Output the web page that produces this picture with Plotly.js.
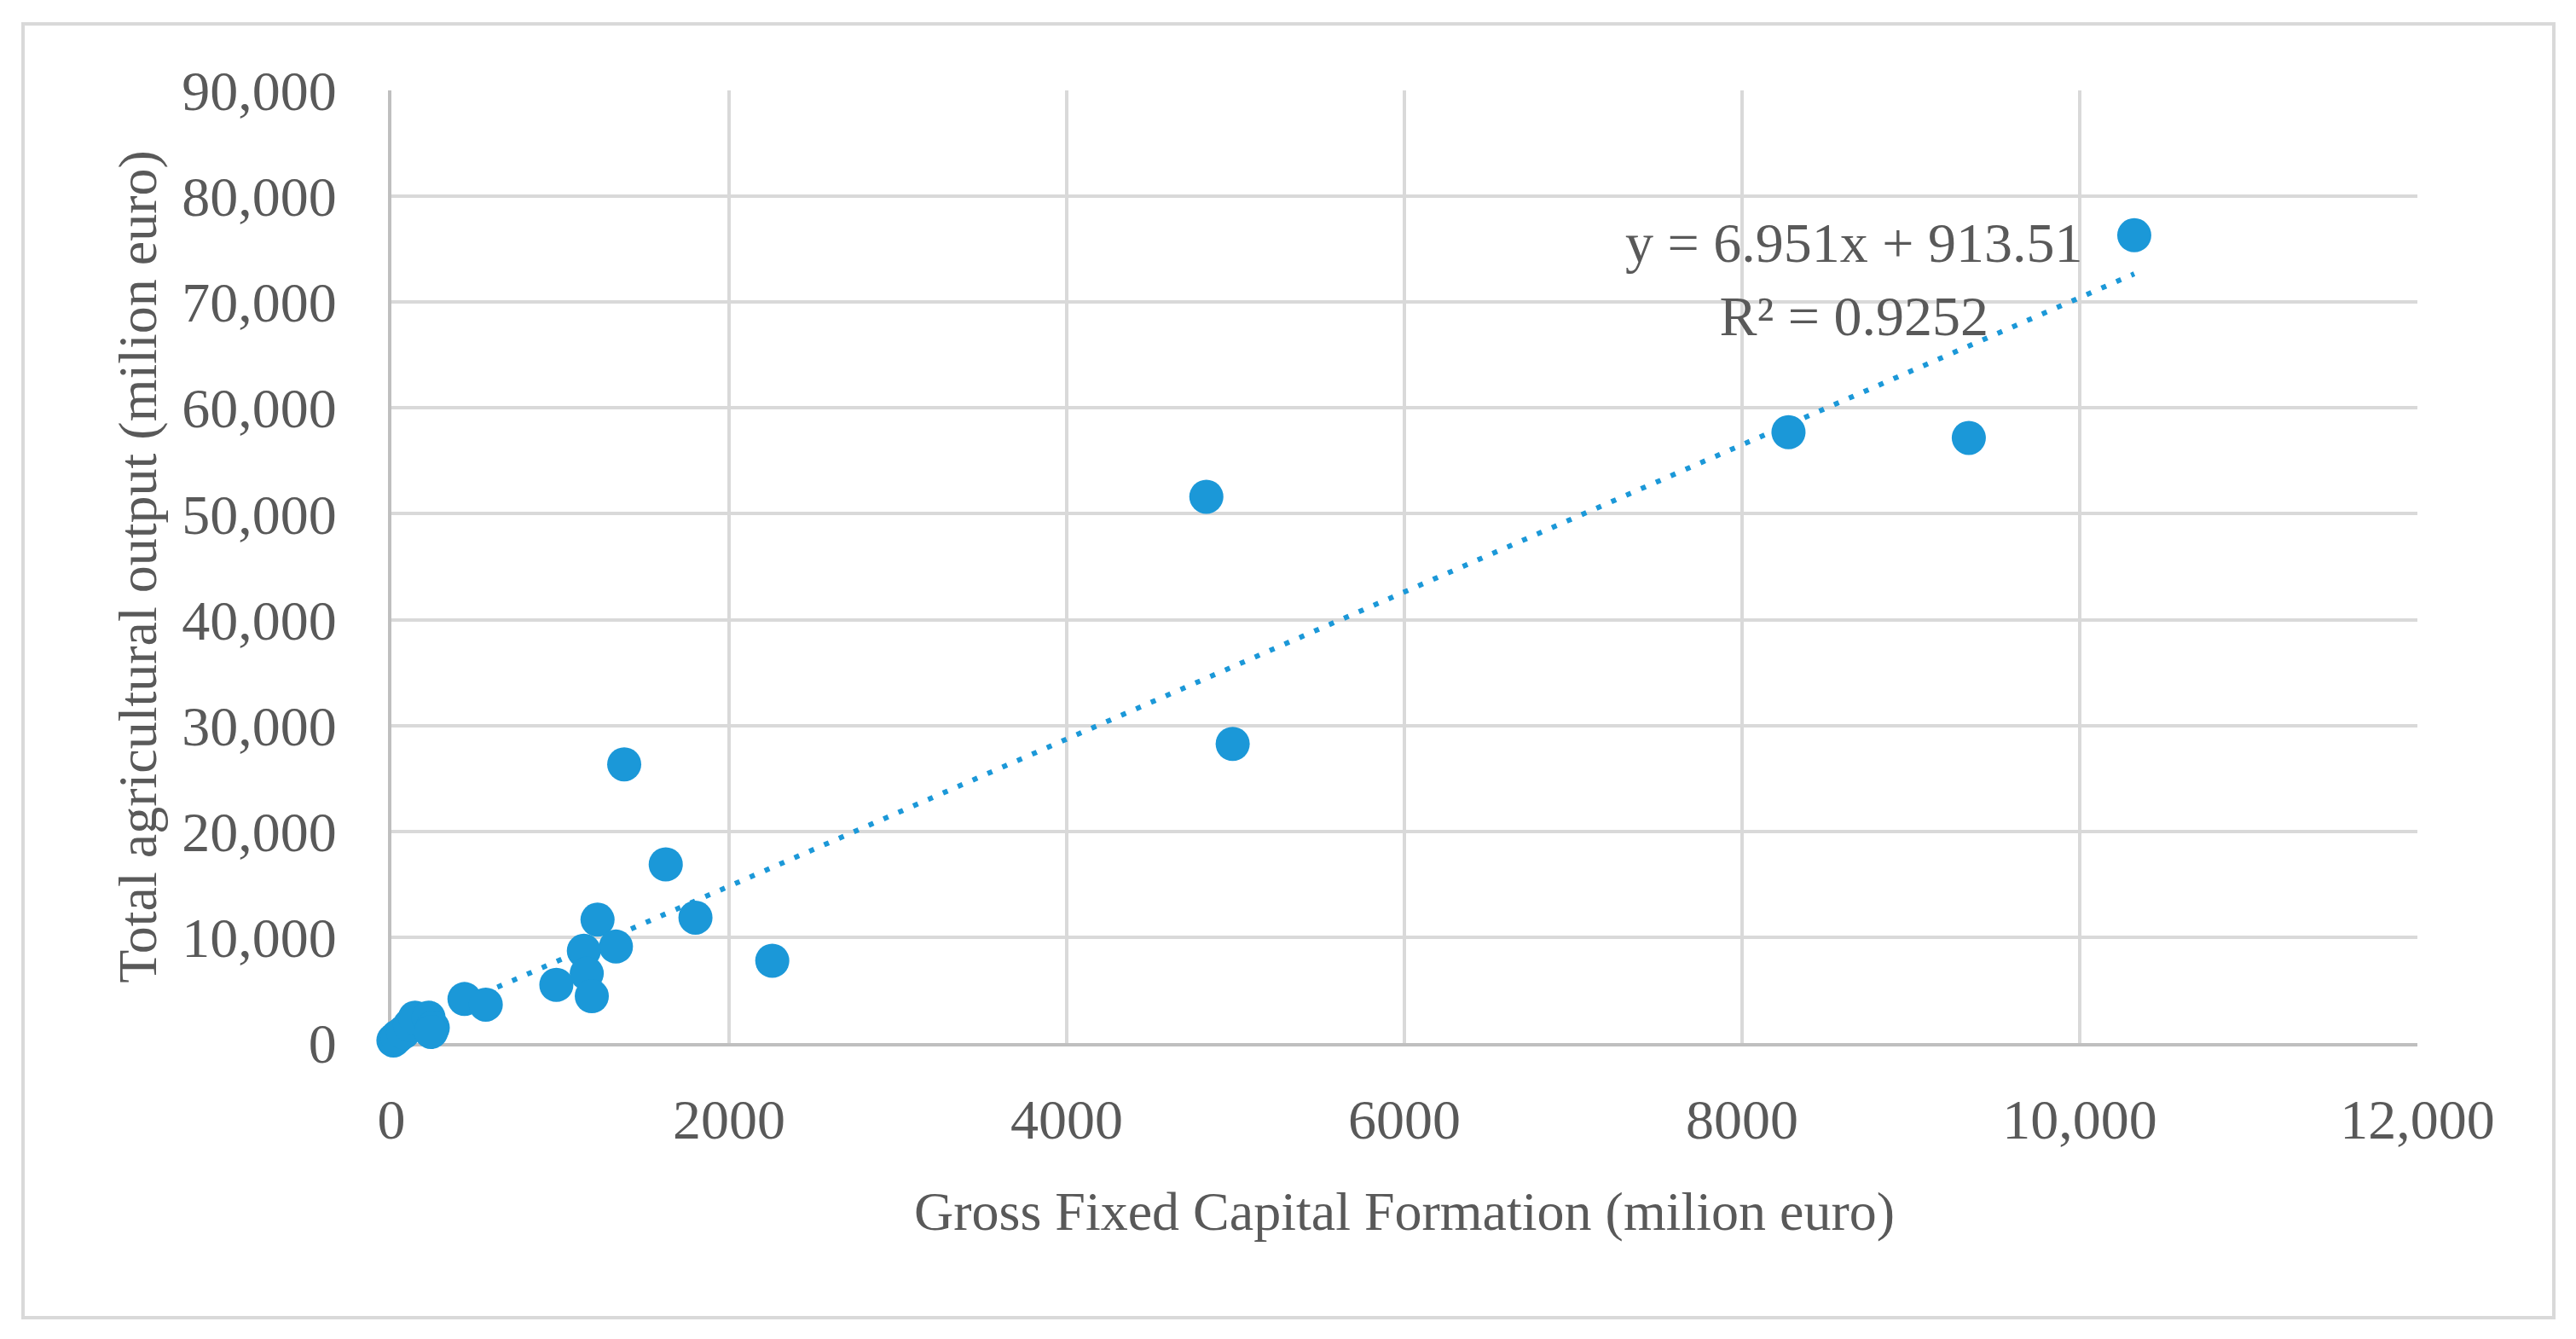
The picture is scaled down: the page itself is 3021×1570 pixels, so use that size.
<!DOCTYPE html>
<html>
<head>
<meta charset="utf-8">
<script src="https://cdn.plot.ly/plotly-3.0.1.min.js"></script>
<style>
  html, body { margin: 0; padding: 0; background: #ffffff; }
  #chart { width: 3021px; height: 1570px; }
</style>
</head>
<body>
<div id="chart"></div>
<script>
// Gross Fixed Capital Formation (milion euro)
const gfcf = [10323, 8275, 9343, 4827, 4983,
              1379, 1625, 1801, 2256, 1221, 1330, 1140, 1157, 1187, 977, 433, 559,
              12, 35, 70, 110, 140, 220, 245, 235];
// Total agricultural output (milion euro)
const output = [76320, 57710, 57170, 51610, 28260,
                26330, 16880, 11850, 7775, 11660, 9115, 8715, 6570, 4430, 5500, 4160, 3630,
                250, 600, 1000, 1700, 2400, 2400, 1450, 1050];

// Linear trendline (as reported on chart)
const slope = 6.951;
const intercept = 913.51;
const rSquared = 0.9252;

const xTickVals = [0, 2000, 4000, 6000, 8000, 10000, 12000];
const xTickText = ['0', '2000', '4000', '6000', '8000', '10,000', '12,000'];
const yTickVals = [0, 10000, 20000, 30000, 40000, 50000, 60000, 70000, 80000, 90000];
const yTickText = ['0', '10,000', '20,000', '30,000', '40,000', '50,000', '60,000', '70,000', '80,000', '90,000'];

const xTitle = 'Gross Fixed Capital Formation (milion euro)';
const yTitle = 'Total agricultural output (milion euro)';

const blue = '#1b98d8';
const textColor = '#595959';
const fontFam = '"Palatino Linotype", "Book Antiqua", Palatino, "Liberation Serif", serif';

const xMin = Math.min(...gfcf), xMax = Math.max(...gfcf);
const trendX = [xMin, xMax];
const trendY = trendX.map(v => slope * v + intercept);

const traces = [
  {
    x: trendX, y: trendY, type: 'scatter', mode: 'lines',
    line: { color: blue, width: 6, dash: '6px,13px' },
    hoverinfo: 'skip', showlegend: false
  },
  {
    x: gfcf, y: output, type: 'scatter', mode: 'markers',
    marker: { color: blue, size: 40, line: { width: 0 } },
    cliponaxis: false,
    hoverinfo: 'x+y', showlegend: false
  }
];

const W = 3021, H = 1570;
const mL = 459, mR = 186, mT = 106, mB = 347;
const pw = W - mL - mR, ph = H - mT - mB;
const px = v => (v - mL) / pw;
const py = v => (H - mB - v) / ph;

const layout = {
  width: W, height: H,
  margin: { l: mL, r: mR, t: mT, b: mB, pad: 0 },
  paper_bgcolor: '#ffffff', plot_bgcolor: '#ffffff',
  font: { family: fontFam, color: textColor, size: 66 },
  xaxis: {
    range: [0, 12000], tickvals: xTickVals, ticktext: xTickText,
    showgrid: true, gridcolor: '#d9d9d9', gridwidth: 4,
    showline: true, linecolor: '#bfbfbf', linewidth: 4,
    zeroline: false, ticks: '', ticklabelstandoff: 29, layer: 'below traces',
    tickfont: { family: fontFam, size: 66, color: textColor },
    title: { text: xTitle, font: { family: fontFam, size: 64, color: textColor }, standoff: 50 },
    automargin: false, fixedrange: true
  },
  yaxis: {
    range: [0, 90000], tickvals: yTickVals, ticktext: yTickText,
    showgrid: true, gridcolor: '#d9d9d9', gridwidth: 4,
    showline: true, linecolor: '#bfbfbf', linewidth: 4,
    zeroline: false, ticks: '', ticklabelstandoff: 47, layer: 'below traces',
    tickfont: { family: fontFam, size: 66, color: textColor },
    title: { text: yTitle, font: { family: fontFam, size: 64, color: textColor }, standoff: 10 },
    automargin: false, fixedrange: true
  },
  annotations: [
    {
      x: 8660, y: 72150, xref: 'x', yref: 'y',
      text: 'y = ' + slope + 'x + ' + intercept + '<br>R² = ' + rSquared,
      showarrow: false, xanchor: 'center', yanchor: 'middle', align: 'center',
      font: { family: fontFam, size: 66, color: textColor }
    }
  ],
  shapes: [
    {
      type: 'rect', xref: 'paper', yref: 'paper',
      x0: px(27), x1: px(2995), y0: py(1545), y1: py(28),
      line: { color: '#d9d9d9', width: 4 }, fillcolor: 'rgba(0,0,0,0)', layer: 'below'
    }
  ]
};

Plotly.newPlot('chart', traces, layout, { displayModeBar: false, staticPlot: true });
</script>
</body>
</html>
